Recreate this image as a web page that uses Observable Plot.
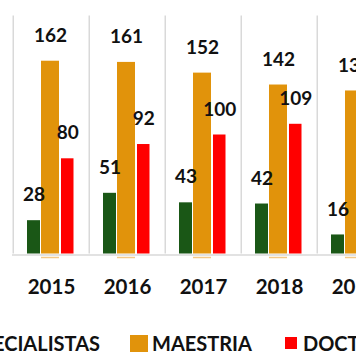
<!DOCTYPE html>
<html>
<head>
<meta charset="utf-8">
<script src="https://cdn.jsdelivr.net/npm/d3@7"></script>
<script src="https://cdn.jsdelivr.net/npm/@observablehq/plot@0.6"></script>
<style>
  html, body { margin: 0; padding: 0; background: #fff; }
  body { width: 356px; height: 364px; overflow: hidden; position: relative; font-family: Lato, "Open Sans", sans-serif; }
  #chart { position: absolute; left: 0; top: 0; }
  #chart svg { max-width: none !important; display: block; }
  .legend-item { position: absolute; display: flex; align-items: center; font-weight: bold; font-size: 20px; color: #111; white-space: nowrap; height: 24px; }
  .sw { display: inline-block; margin-right: 5px; }
</style>
</head>
<body>
<div id="chart"></div>
<div id="legend"></div>
<script>
const years = ["2015", "2016", "2017", "2018", "2019"];
const especialistas = [28, 51, 43, 42, 16];
const maestria = [162, 161, 152, 142, 137];
const doctorado = [80, 92, 100, 109, null];
const seriesNames = ["ESPECIALISTAS", "MAESTRIA", "DOCTORADO"];
const seriesColors = ["#1a5716", "#e1930b", "#ff0000"];

const seriesValues = [especialistas, maestria, doctorado];
const table = years.flatMap((year, i) =>
  seriesNames.map((s, j) => ({year, series: s, value: seriesValues[j][i]}))
).filter(d => d.value != null);

const B = 76.5;
// bar placement inside each year band (style)
const layout = {
  ESPECIALISTAS: {insetLeft: 14, insetRight: 49, dx: -17.5},
  MAESTRIA: {insetLeft: 28, insetRight: 30, dx: -1},
  DOCTORADO: {insetLeft: 48, insetRight: 15.5, dx: 16.25}
};

const marks = [
  Plot.ruleX(years, {x: d => d, dx: -B / 2, stroke: "#d9d9d9", strokeWidth: 1.5}),
  Plot.ruleY([0], {stroke: "#d9d9d9", strokeWidth: 1.5, dy: 1})
];
seriesNames.forEach((s, j) => {
  const rows = table.filter(d => d.series === s);
  marks.push(Plot.rectY(rows, {x: "year", y: "value", fill: seriesColors[j],
    insetLeft: layout[s].insetLeft, insetRight: layout[s].insetRight}));
  if (s === "MAESTRIA") {
    marks.push(Plot.tickY(rows, {x: "year", y: () => 0, dy: 3.5, stroke: "#f3c887", strokeWidth: 1.5,
      insetLeft: layout[s].insetLeft, insetRight: layout[s].insetRight}));
  }
});
seriesNames.forEach((s) => {
  const rows = table.filter(d => d.series === s);
  marks.push(Plot.text(rows, {x: "year", y: "value", text: d => String(d.value),
    dx: layout[s].dx, dy: -25.5, lineAnchor: "middle", fontSize: 19, fontWeight: "bold", fill: "#111"}));
});
marks.push(Plot.axisX({tickSize: 0, tickPadding: 25.5, fontSize: 20.5, fontWeight: "bold", label: null, fill: "#111"}));

const chart = Plot.plot({
  width: 395,
  height: 300,
  marginLeft: 12,
  marginRight: 0.5,
  marginTop: 15.5,
  marginBottom: 46.5,
  x: {domain: years, padding: 0, label: null},
  y: {domain: [0, 200], axis: null},
  style: {fontFamily: "Lato, 'Open Sans', sans-serif", background: "#fff", overflow: "visible"},
  marks
});
document.getElementById("chart").appendChild(chart);

// legend
const legend = document.getElementById("legend");
const legendPos = [
  {right: 256, sw: [16, 16]},
  {left: 130, sw: [18, 17]},
  {left: 285, sw: [12, 12]}
];
seriesNames.forEach((s, j) => {
  const item = document.createElement("div");
  item.className = "legend-item";
  item.style.top = "331px";
  if (legendPos[j].right != null) item.style.right = legendPos[j].right + "px";
  else item.style.left = legendPos[j].left + "px";
  const sw = document.createElement("span");
  sw.className = "sw";
  sw.style.width = legendPos[j].sw[0] + "px";
  sw.style.height = legendPos[j].sw[1] + "px";
  sw.style.background = seriesColors[j];
  sw.style.marginRight = (j === 1 ? 4 : 6) + "px";
  const tx = document.createElement("span");
  tx.textContent = s;
  item.appendChild(sw);
  item.appendChild(tx);
  legend.appendChild(item);
});
</script>
</body>
</html>
